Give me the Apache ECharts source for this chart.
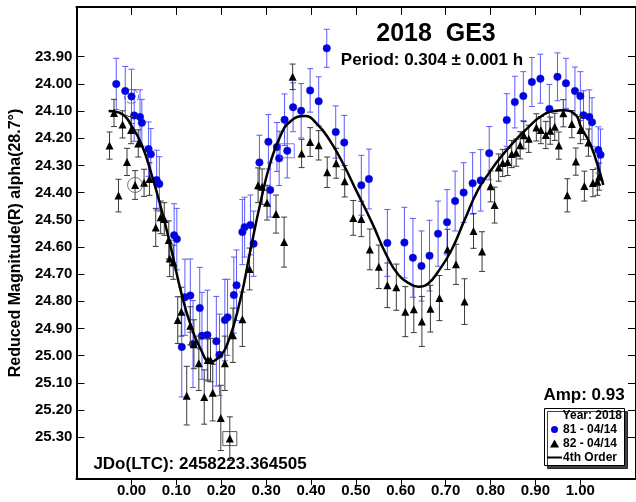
<!DOCTYPE html>
<html><head><meta charset="utf-8">
<script src="https://cdn.jsdelivr.net/npm/echarts@6/dist/echarts.min.js"></script>
<style>html,body{margin:0;padding:0;background:#fff}#c{width:636px;height:502px}</style>
</head><body><div id="c"></div>
<script>
const blueName = '81 - 04/14';
const blackName = '82 - 04/14';
const fitName = '4th Order';

const bluePhase = [-0.034,-0.014,0.000,0.006,0.019,0.023,0.038,0.043,0.056,0.062,
  0.095,0.101,0.112,0.119,0.131,0.137,0.152,0.157,0.169,0.189,
  0.196,0.208,0.214,0.228,0.234,0.247,0.252,0.265,0.272,0.285,
  0.305,0.309,0.324,0.329,0.341,0.347,0.360,0.378,0.398,0.417,
  0.435,0.455,0.474,0.512,0.529,0.570,0.608,0.627,0.646,0.664,
  0.683,0.703,0.721,0.740,0.760,0.778,0.797,0.836,0.854,0.873,
  0.892,0.911,0.931,0.949,0.968,0.988,1.000,1.007,1.020,1.026,
  1.040,1.045];
const blueMag = [24.000,24.026,24.046,24.116,24.122,24.143,24.240,24.259,24.354,24.368,
  24.557,24.571,24.968,24.785,24.779,24.957,24.825,24.927,24.924,24.947,
  24.997,24.869,24.859,24.777,24.741,24.545,24.527,24.519,24.588,24.289,
  24.213,24.390,24.232,24.274,24.132,24.246,24.086,24.099,24.024,24.064,
  23.869,24.177,24.216,24.373,24.350,24.585,24.584,24.640,24.670,24.632,
  24.551,24.509,24.431,24.400,24.366,24.355,24.255,24.133,24.067,24.045,
  23.993,23.981,24.092,23.974,23.998,24.026,24.045,24.115,24.122,24.141,
  24.243,24.261];
const blueErr = [0.094,0.09,0.10,0.095,0.10,0.086,0.10,0.095,0.11,0.10,
  0.116,0.113,0.184,0.14,0.135,0.16,0.15,0.16,0.165,0.165,
  0.15,0.15,0.14,0.14,0.13,0.12,0.11,0.11,0.12,0.10,
  0.10,0.10,0.09,0.10,0.095,0.10,0.09,0.10,0.08,0.09,
  0.07,0.096,0.10,0.11,0.11,0.123,0.13,0.145,0.129,0.13,
  0.12,0.12,0.11,0.11,0.113,0.113,0.098,0.097,0.095,0.09,
  0.09,0.09,0.09,0.088,0.092,0.088,0.09,0.09,0.10,0.09,
  0.085,0.095];

const blackPhase = [-0.049,-0.039,-0.029,-0.020,-0.010,-0.001,0.008,0.015,0.028,0.040,
  0.054,0.065,0.073,0.083,0.085,0.093,0.103,0.111,0.123,0.131,
  0.139,0.150,0.162,0.170,0.176,0.181,0.199,0.208,0.219,0.226,
  0.247,0.263,0.282,0.291,0.302,0.322,0.340,0.359,0.379,0.398,
  0.417,0.436,0.456,0.475,0.494,0.512,0.531,0.551,0.570,0.590,
  0.610,0.629,0.647,0.666,0.686,0.704,0.723,0.742,0.762,0.781,
  0.800,0.809,0.818,0.827,0.838,0.847,0.857,0.866,0.874,0.885,
  0.902,0.912,0.923,0.933,0.943,0.952,0.962,0.971,0.981,0.990,
  1.000,1.009,1.018,1.028,1.038,1.042];
const blackMag = [24.227,24.107,24.411,24.149,24.287,24.170,24.372,24.219,24.364,24.350,
  24.528,24.491,24.497,24.574,24.642,24.656,24.869,24.838,25.147,24.890,
  24.958,25.028,25.152,25.016,25.016,25.136,25.229,25.028,25.305,24.925,
  24.866,24.681,24.373,24.378,24.437,24.479,24.582,23.974,24.256,24.214,
  24.226,24.325,24.292,24.358,24.493,24.497,24.609,24.673,24.741,24.748,
  24.838,24.829,24.874,24.827,24.788,24.609,24.664,24.801,24.541,24.617,
  24.377,24.446,24.308,24.291,24.287,24.258,24.253,24.226,24.189,24.202,
  24.160,24.170,24.188,24.172,24.158,24.227,24.108,24.410,24.148,24.286,
  24.170,24.376,24.216,24.365,24.360,24.341];
const blackErr = [0.05,0.05,0.06,0.05,0.05,0.05,0.053,0.05,0.05,0.06,
  0.07,0.06,0.06,0.07,0.067,0.063,0.086,0.09,0.108,0.07,
  0.09,0.10,0.10,0.077,0.08,0.104,0.12,0.10,0.08,0.10,
  0.10,0.077,0.064,0.065,0.064,0.07,0.092,0.047,0.052,0.053,
  0.054,0.056,0.055,0.058,0.064,0.065,0.075,0.08,0.082,0.085,
  0.092,0.086,0.092,0.086,0.083,0.074,0.074,0.084,0.064,0.073,
  0.057,0.066,0.05,0.05,0.05,0.05,0.05,0.05,0.05,0.05,
  0.05,0.05,0.05,0.05,0.05,0.05,0.05,0.061,0.05,0.05,
  0.05,0.055,0.05,0.05,0.05,0.05];

const fitPhase = [-0.051,-0.021,0.001,0.023,0.045,0.067,0.089,0.111,0.133,0.155,
  0.175,0.192,0.214,0.243,0.265,0.287,0.309,0.331,0.353,0.386,
  0.412,0.441,0.471,0.500,0.537,0.566,0.595,0.625,0.639,0.661,
  0.683,0.713,0.742,0.772,0.800,0.820,0.852,0.882,0.911,0.941,
  0.962,0.990,1.001,1.023,1.045,1.051];
const fitMag = [24.100,24.111,24.157,24.225,24.335,24.464,24.611,24.770,24.893,24.979,
  25.022,25.010,24.955,24.790,24.611,24.439,24.292,24.194,24.139,24.118,
  24.145,24.206,24.292,24.390,24.515,24.623,24.703,24.740,24.746,24.734,
  24.691,24.611,24.501,24.390,24.320,24.275,24.213,24.163,24.121,24.100,
  24.097,24.115,24.157,24.225,24.335,24.372];

const xTicks = [0.0,0.1,0.2,0.3,0.4,0.5,0.6,0.7,0.8,0.9,1.0];
const yTicks = [23.9,24.0,24.1,24.2,24.3,24.4,24.5,24.6,24.7,24.8,24.9,25.0,25.1,25.2,25.3];

const blueCircled = [2];
const blueBoxed = [35];
const blackCircled = [6];
const blackBoxed = [28];

const X_MIN = -0.1227, X_MAX = 1.1240;
const Y_MIN = 23.7171, Y_MAX = 25.4537;

const FONT = '"Liberation Sans", Arial, sans-serif';

function zip3(a, b, c) { return a.map((v, i) => [v, b[i], c[i]]); }
function pick(a, b, idx) { return idx.map(i => [a[i], b[i]]); }

function errRenderer(color) {
  return function (params, api) {
    const x = api.value(0), y = api.value(1), e = api.value(2);
    const p1 = api.coord([x, y - e]);
    const p2 = api.coord([x, y + e]);
    const cw = 3;
    const style = { stroke: color, lineWidth: 1 };
    return { type: 'group', children: [
      { type: 'line', shape: { x1: p1[0], y1: p1[1], x2: p2[0], y2: p2[1] }, style },
      { type: 'line', shape: { x1: p1[0] - cw, y1: p1[1], x2: p1[0] + cw, y2: p1[1] }, style },
      { type: 'line', shape: { x1: p2[0] - cw, y1: p2[1], x2: p2[0] + cw, y2: p2[1] }, style }
    ]};
  };
}

const axisLineStyle = { show: true, onZero: false, lineStyle: { color: '#000', width: 2 } };
const tickStyle = { color: '#000', width: 1 };
const labelStyle = { fontSize: 15, fontWeight: 'bold', color: '#000', fontFamily: FONT };

const chart = echarts.init(document.getElementById('c'), null, { renderer: 'canvas' });
chart.setOption({
  animation: false,
  backgroundColor: '#fff',
  grid: { left: 74, top: 7, width: 566, height: 472, containLabel: false },
  xAxis: [
    { type: 'value', position: 'bottom', min: X_MIN, max: X_MAX,
      axisLine: axisLineStyle,
      axisTick: { show: true, inside: false, length: 6, customValues: xTicks, lineStyle: tickStyle },
      axisLabel: Object.assign({ customValues: xTicks, margin: 4, formatter: v => v.toFixed(2) }, labelStyle),
      splitLine: { show: false } },
    { type: 'value', position: 'top', min: X_MIN, max: X_MAX,
      axisLine: axisLineStyle,
      axisTick: { show: true, inside: true, length: 8, customValues: xTicks, lineStyle: tickStyle },
      axisLabel: { show: false }, splitLine: { show: false } }
  ],
  yAxis: [
    { type: 'value', position: 'left', inverse: true, min: Y_MIN, max: Y_MAX,
      name: 'Reduced Magnitude(R) alpha(28.7°)', nameLocation: 'middle', nameGap: 45, nameRotate: 90,
      nameTextStyle: { fontSize: 16, fontWeight: 'bold', color: '#000', fontFamily: FONT },
      axisLine: axisLineStyle,
      axisTick: { show: true, inside: true, length: 8, customValues: yTicks, lineStyle: tickStyle },
      axisLabel: Object.assign({ customValues: yTicks, margin: 4, formatter: v => v.toFixed(2) }, labelStyle),
      splitLine: { show: false } },
    { type: 'value', position: 'right', inverse: true, min: Y_MIN, max: Y_MAX,
      axisLine: axisLineStyle,
      axisTick: { show: true, inside: true, length: 8, customValues: yTicks, lineStyle: tickStyle },
      axisLabel: { show: false }, splitLine: { show: false } }
  ],
  series: [
    { name: blueName + ' err', type: 'custom', renderItem: errRenderer('#5b5bff'),
      data: zip3(bluePhase, blueMag, blueErr), encode: { x: 0, y: 1 }, z: 2, silent: true },
    { name: blueName, type: 'scatter', symbol: 'circle', symbolSize: 7.5,
      itemStyle: { color: '#0000f0', borderColor: '#202090', borderWidth: 0.5, opacity: 1 },
      data: bluePhase.map((p, i) => [p, blueMag[i]]), z: 3 },
    { name: blackName + ' err', type: 'custom', renderItem: errRenderer('#3a3a3a'),
      data: zip3(blackPhase, blackMag, blackErr), encode: { x: 0, y: 1 }, z: 4, silent: true },
    { name: blackName, type: 'scatter', symbol: 'triangle', symbolSize: [8, 8],
      itemStyle: { color: '#000', opacity: 1 },
      data: blackPhase.map((p, i) => [p, blackMag[i]]), z: 5 },
    { name: 'blue circled', type: 'scatter', symbol: 'circle', symbolSize: 14,
      itemStyle: { color: 'rgba(0,0,0,0)', borderColor: '#3030ff', borderWidth: 1, borderType: 'dashed' },
      data: pick(bluePhase, blueMag, blueCircled), z: 6, silent: true },
    { name: 'blue boxed', type: 'scatter', symbol: 'rect', symbolSize: 14,
      itemStyle: { color: 'rgba(0,0,0,0)', borderColor: '#5b5bff', borderWidth: 1 },
      data: pick(bluePhase, blueMag, blueBoxed), z: 6, silent: true },
    { name: 'black circled', type: 'scatter', symbol: 'circle', symbolSize: 15,
      itemStyle: { color: 'rgba(0,0,0,0)', borderColor: '#555', borderWidth: 1 },
      data: pick(blackPhase, blackMag, blackCircled), z: 6, silent: true },
    { name: 'black boxed', type: 'scatter', symbol: 'rect', symbolSize: 14,
      itemStyle: { color: 'rgba(0,0,0,0)', borderColor: '#333', borderWidth: 1 },
      data: pick(blackPhase, blackMag, blackBoxed), z: 6, silent: true },
    { name: fitName, type: 'line', smooth: 0.5, showSymbol: false, symbol: 'none',
      lineStyle: { color: '#000', width: 2.5 },
      data: fitPhase.map((p, i) => [p, fitMag[i]]), z: 7, silent: true }
  ],
  graphic: [
    { type: 'text', x: 436, y: 34, style: { text: '2018  GE3', fontSize: 25, fontWeight: 'bold', fontFamily: FONT, fill: '#000', align: 'center', verticalAlign: 'middle' } },
    { type: 'text', x: 432, y: 60, style: { text: 'Period: 0.304 ± 0.001 h', fontSize: 17, fontWeight: 'bold', fontFamily: FONT, fill: '#000', align: 'center', verticalAlign: 'middle' } },
    { type: 'text', x: 584, y: 395, style: { text: 'Amp: 0.93', fontSize: 17, fontWeight: 'bold', fontFamily: FONT, fill: '#000', align: 'center', verticalAlign: 'middle' } },
    { type: 'text', x: 200, y: 464, style: { text: 'JDo(LTC): 2458223.364505', fontSize: 17, fontWeight: 'bold', fontFamily: FONT, fill: '#000', align: 'center', verticalAlign: 'middle' } },
    { type: 'rect', shape: { x: 544.5, y: 408.5, width: 80, height: 57 }, z: 100,
      style: { fill: '#fff', stroke: '#000', lineWidth: 1, shadowColor: 'rgba(0,0,0,0.75)', shadowOffsetX: 3, shadowOffsetY: 3, shadowBlur: 0 } },
    { type: 'text', x: 622, y: 416, z: 101, style: { text: 'Year: 2018', fontSize: 12, fontWeight: 'bold', fontFamily: FONT, fill: '#000', align: 'right', verticalAlign: 'middle' } },
    { type: 'circle', shape: { cx: 554.5, cy: 429.5, r: 3.5 }, z: 101, style: { fill: '#0000f0' } },
    { type: 'text', x: 563, y: 430, z: 101, style: { text: blueName, fontSize: 12, fontWeight: 'bold', fontFamily: FONT, fill: '#000', align: 'left', verticalAlign: 'middle' } },
    { type: 'polygon', shape: { points: [[554.5, 439.5], [559, 447.5], [550, 447.5]] }, z: 101, style: { fill: '#000' } },
    { type: 'text', x: 563, y: 444, z: 101, style: { text: blackName, fontSize: 12, fontWeight: 'bold', fontFamily: FONT, fill: '#000', align: 'left', verticalAlign: 'middle' } },
    { type: 'line', shape: { x1: 547, y1: 457.5, x2: 562, y2: 457.5 }, z: 101, style: { stroke: '#000', lineWidth: 2 } },
    { type: 'text', x: 563, y: 458, z: 101, style: { text: fitName, fontSize: 12, fontWeight: 'bold', fontFamily: FONT, fill: '#000', align: 'left', verticalAlign: 'middle' } }
  ]
});
</script></body></html>
